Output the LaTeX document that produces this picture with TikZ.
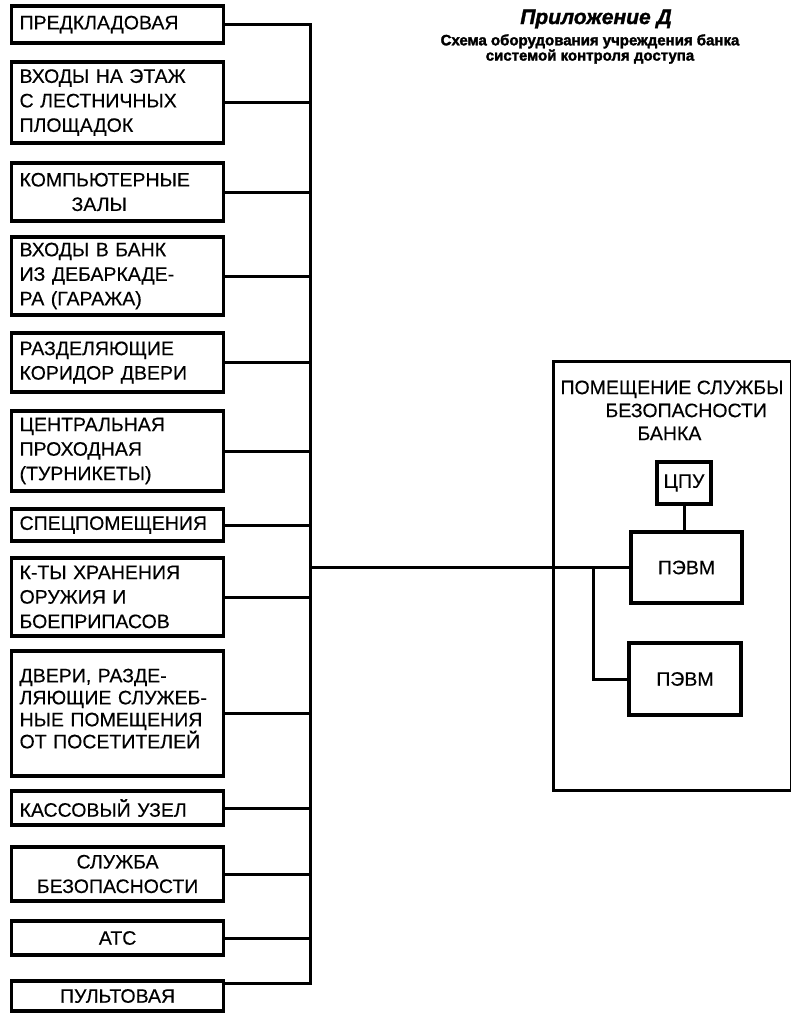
\documentclass[tikz,border=0pt]{standalone}
\usepackage{fontspec}
\setmainfont{Liberation Sans}[FakeBold=0.3]

\tikzset{
  zone/.style={draw, line width=3.2pt, anchor=west, text width=196pt, inner xsep=8pt, inner ysep=0pt,
    align=left, font=\fontsize{19.5}{24.5}\selectfont},
  zonec/.style={zone, align=center},
  unit/.style={draw, line width=3.2pt, inner sep=0pt, align=center, font=\fontsize{19.5}{24.5}\selectfont},
  wire/.style={line width=3pt}
}

\begin{document}
\begin{tikzpicture}[x=1pt, y=-1pt]
    \useasboundingbox (0,0) rectangle (791,1013);
    % titles
    \node[font=\fontsize{21}{21}\selectfont\bfseries\itshape\addfontfeature{FakeBold=1.5}] (title) at (596,19) {Приложение Д};
    \node[font=\fontsize{15}{12}\selectfont\bfseries\addfontfeature{FakeBold=2}, align=center] (subtitle) at (590,49)
        {Схема оборудования учреждения банка\\системой контроля доступа};

    % premises
    \node[zone, minimum height=37pt] (b1) at (10,24.5) {ПРЕДКЛАДОВАЯ};
    \node[zone, minimum height=81pt] (b2) at (10,102.5) {ВХОДЫ НА ЭТАЖ\\С ЛЕСТНИЧНЫХ\\ПЛОЩАДОК};
    \node[zone, minimum height=58pt] (b3) at (10,192) {КОМПЬЮТЕРНЫЕ\\\hspace*{52pt}ЗАЛЫ};
    \node[zone, minimum height=78pt] (b4) at (10,276) {ВХОДЫ В БАНК\\ИЗ ДЕБАРКАДЕ-\\РА (ГАРАЖА)};
    \node[zone, minimum height=59pt] (b5) at (10,362.5) {РАЗДЕЛЯЮЩИЕ\\КОРИДОР ДВЕРИ};
    \node[zone, minimum height=80pt] (b6) at (10,451) {ЦЕНТРАЛЬНАЯ\\ПРОХОДНАЯ\\(ТУРНИКЕТЫ)};
    \node[zone, minimum height=32pt] (b7) at (10,525) {СПЕЦПОМЕЩЕНИЯ};
    \node[zone, minimum height=78pt] (b8) at (10,597) {К-ТЫ ХРАНЕНИЯ\\ОРУЖИЯ И\\БОЕПРИПАСОВ};
    \node[zone, minimum height=125pt, font=\fontsize{19.5}{22}\selectfont] (b9) at (10,713.5)
        {ДВЕРИ, РАЗДЕ-\\ЛЯЮЩИЕ СЛУЖЕБ-\\НЫЕ ПОМЕЩЕНИЯ\\ОТ ПОСЕТИТЕЛЕЙ\\[-12pt]\mbox{}};
    \node[zone, minimum height=34pt] (b10) at (10,808) {КАССОВЫЙ УЗЕЛ};
    \node[zonec, minimum height=54pt] (b11) at (10,874) {СЛУЖБА\hspace*{18pt}\\БЕЗОПАСНОСТИ\hspace*{18pt}};
    \node[zonec, minimum height=34pt] (b12) at (10,938) {АТС\hspace*{18pt}};
    \node[zonec, minimum height=30pt] (b13) at (10,996) {ПУЛЬТОВАЯ\hspace*{18pt}};

    % security room
    \node[draw, line width=2.8pt, minimum width=238pt, minimum height=429pt, anchor=north west] (room) at (552,360) {};
    \node[font=\fontsize{19.5}{23}\selectfont, align=left, anchor=north west] (roomname) at (557,377)
        {ПОМЕЩЕНИЕ СЛУЖБЫ\\\hspace*{45pt}БЕЗОПАСНОСТИ\\\hspace*{77pt}БАНКА};
    \node[unit, minimum width=54pt, minimum height=42pt] (cpu) at (684,483) {ЦПУ};
    \node[unit, minimum width=111pt, minimum height=71pt] (pc1) at (686.5,567.5) {ПЭВМ};
    \node[unit, minimum width=112pt, minimum height=72pt] (pc2) at (685,679) {ПЭВМ};

    % wiring
    \coordinate (bus) at (310,0);
    \coordinate (tap) at (593,0);
    \coordinate (b13c) at ([yshift=-4pt]b13.north east);
    \draw[wire] (b1.east) -| (b13c -| bus) -- (b13c);
    \draw[wire] (b2.east) -- (b2.east -| bus);
    \draw[wire] (b3.east) -- (b3.east -| bus);
    \draw[wire] (b4.east) -- (b4.east -| bus);
    \draw[wire] (b5.east) -- (b5.east -| bus);
    \draw[wire] (b6.east) -- (b6.east -| bus);
    \draw[wire] (b7.east) -- (b7.east -| bus);
    \draw[wire] (b8.east) -- (b8.east -| bus);
    \draw[wire] (b9.east) -- (b9.east -| bus);
    \draw[wire] (b10.east) -- (b10.east -| bus);
    \draw[wire] (b11.east) -- (b11.east -| bus);
    \draw[wire] (b12.east) -- (b12.east -| bus);
    \draw[wire] (bus |- pc1.west) -- (pc1.west);
    \draw[wire] (tap |- pc1.west) |- (pc2.west);
    \draw[wire] (cpu.south) -- (cpu.south |- pc1.north);
\end{tikzpicture}
\end{document}
